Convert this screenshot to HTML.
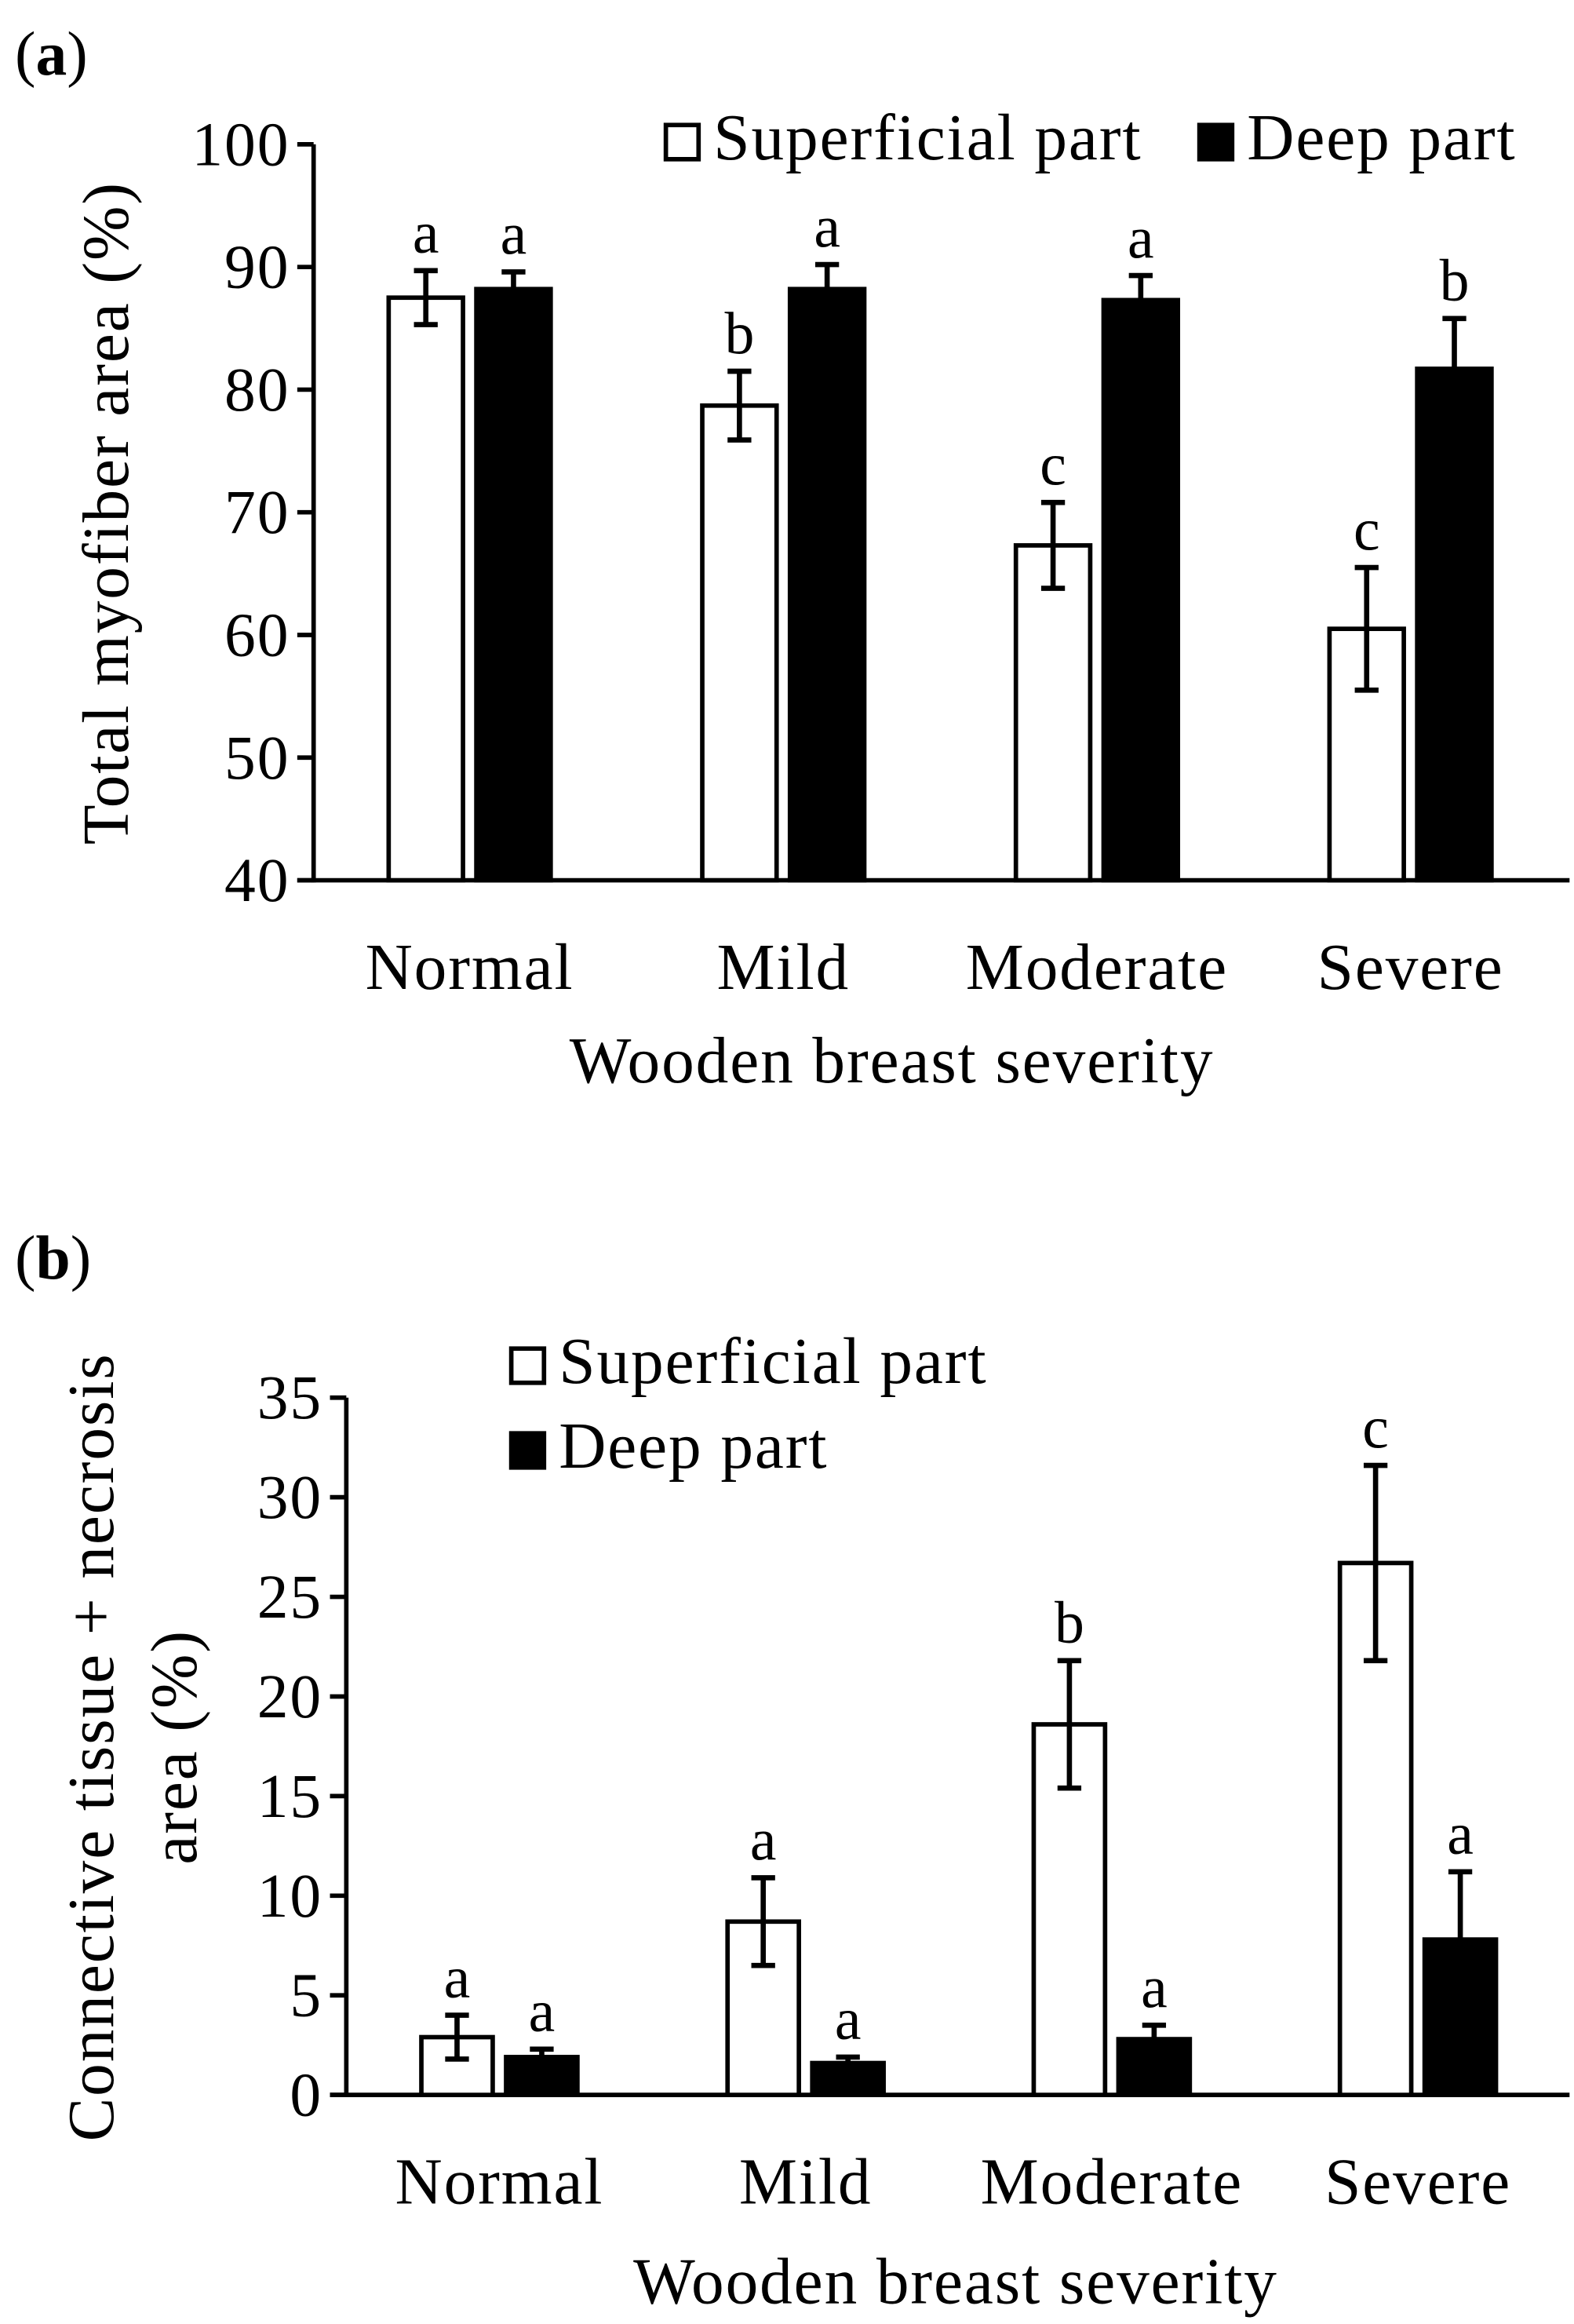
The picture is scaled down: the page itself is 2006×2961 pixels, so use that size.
<!DOCTYPE html>
<html><head><meta charset="utf-8"><style>
html,body{margin:0;padding:0;background:#fff}
svg{display:block}
text{font-family:"Liberation Serif",serif;fill:#000}
</style></head><body>
<svg id="fig" width="2006" height="2961" viewBox="0 0 1059 1563" xmlns="http://www.w3.org/2000/svg">
<text x="10" y="50" font-size="42">(<tspan font-weight="bold">a</tspan>)</text>
<text x="10" y="860" font-size="42">(<tspan font-weight="bold">b</tspan>)</text>
<g id="chartA"></g>
<g id="chartB"></g>
</svg>
<script>
const categories = ["Normal","Mild","Moderate","Severe"];
const aSuperficial = [87.5, 78.7, 67.3, 60.5];
const aSuperficialErr = [2.2, 2.8, 3.5, 5.0];
const aDeep = [88.2, 88.2, 87.3, 81.7];
const aDeepErr = [1.4, 2.0, 2.0, 4.1];
const aSupLetters = ["a","b","c","c"];
const aDeepLetters = ["a","a","a","b"];
const aTicks = [40,50,60,70,80,90,100];
const bSuperficial = [2.9, 8.7, 18.6, 26.7];
const bSuperficialErr = [1.1, 2.2, 3.2, 4.9];
const bDeep = [1.9, 1.6, 2.8, 7.8];
const bDeepErr = [0.4, 0.3, 0.7, 3.4];
const bSupLetters = ["a","a","b","c"];
const bDeepLetters = ["a","a","a","a"];
const bTicks = [0,5,10,15,20,25,30,35];

const NS="http://www.w3.org/2000/svg";
function mk(parent,tag,attrs,txt){const e=document.createElementNS(NS,tag);for(const k in attrs)e.setAttribute(k,attrs[k]);if(txt!==undefined)e.textContent=txt;parent.appendChild(e);return e;}

function drawChart(g,cfg){
  const y=v=>cfg.y0+(v-cfg.vmin)/(cfg.vmax-cfg.vmin)*(cfg.y1-cfg.y0);
  const xc=i=>cfg.gx0+i*cfg.gstep;
  const ya=mk(g,'line',{x1:cfg.ax,y1:y(cfg.vmax),x2:cfg.ax,y2:y(cfg.vmin)+1.5,stroke:'#000','stroke-width':3});
  
  
  const xa=mk(g,'line',{x1:cfg.ax-11,y1:y(cfg.vmin),x2:1056,y2:y(cfg.vmin),stroke:'#000','stroke-width':3});
  
  
  cfg.ticks.forEach(t=>{
    const tk=mk(g,'line',{x1:cfg.ax-11,y1:y(t),x2:cfg.ax,y2:y(t),stroke:'#000','stroke-width':3});
    
    
    const tl=mk(g,'text',{x:cfg.ax-16,y:y(t)+14,'font-size':42,'letter-spacing':1,'text-anchor':'end'},String(t));
    
    
  });
  categories.forEach((c,i)=>{
    const cx=xc(i);
    const bw=cfg.bw, off=cfg.off;
    [[cfg.sup,cfg.supE,cfg.supL,-1,'#fff','superficial'],[cfg.deep,cfg.deepE,cfg.deepL,1,'#000','deep']].forEach(([vals,errs,lets,s,fill,nm])=>{
      const bx=cx+s*off;
      const v=vals[i],e=errs[i];
      const r=mk(g,'rect',{x:bx-bw/2,y:y(v),width:bw,height:y(cfg.vmin)-y(v),fill:fill,stroke:'#000','stroke-width':3});
      
      
      const ep=mk(g,'path',{d:`M${bx},${y(v+e)}V${y(v-e)}M${bx-8},${y(v+e)}H${bx+8}M${bx-8},${y(v-e)}H${bx+8}`,stroke:'#000','stroke-width':3.5,fill:'none'});
      
      
      const lt=mk(g,'text',{x:bx,y:y(v+e)-12,'font-size':40,'text-anchor':'middle'},lets[i]);
      
      
    });
    const cl=mk(g,'text',{x:cx,y:cfg.catY,'font-size':44,'letter-spacing':1,'text-anchor':'middle'},c);
    
    
  });
  const xt=mk(g,'text',{x:cfg.xtX,y:cfg.xtY,'font-size':44,'letter-spacing':1,'text-anchor':'middle'},'Wooden breast severity');
  
  
}

const gA=document.getElementById('chartA');
drawChart(gA,{vmin:40,vmax:100,y0:592,y1:97,ax:211,gx0:316,gstep:211,bw:50,off:29.5,ticks:aTicks,
  sup:aSuperficial,supE:aSuperficialErr,supL:aSupLetters,deep:aDeep,deepE:aDeepErr,deepL:aDeepLetters,catY:665,xtX:600,xtY:728});
const gB=document.getElementById('chartB');
drawChart(gB,{vmin:0,vmax:35,y0:1409,y1:940,ax:233,gx0:336,gstep:206,bw:48,off:28.5,ticks:bTicks,
  sup:bSuperficial,supE:bSuperficialErr,supL:bSupLetters,deep:bDeep,deepE:bDeepErr,deepL:bDeepLetters,catY:1482,xtX:643,xtY:1549});

let t;
t=mk(gA,'text',{x:0,y:0,'font-size':44,'letter-spacing':1,'text-anchor':'middle',transform:'translate(86,345) rotate(-90)'},'Total myofiber area (%)');


t=mk(gB,'text',{x:0,y:0,'font-size':44,'letter-spacing':1,'text-anchor':'middle',transform:'translate(76,1175) rotate(-90)'},'Connective tissue + necrosis');


t=mk(gB,'text',{x:0,y:0,'font-size':44,'letter-spacing':1,'text-anchor':'middle',transform:'translate(132,1175) rotate(-90)'},'area (%)');



function legend(g,x,y,fill,label,nm){
  const r=mk(g,'rect',{x:x,y:y,width:22,height:23,fill:fill,stroke:'#000','stroke-width':3});
  
  
  const tx=mk(g,'text',{x:x+32,y:y+23,'font-size':44,'letter-spacing':1},label);
  
  
}
legend(gA,448,84,'#fff','Superficial part','superficial');
legend(gA,807,84,'#000','Deep part','deep');
legend(gB,344,907,'#fff','Superficial part','superficial');
legend(gB,344,964,'#000','Deep part','deep');
</script>
</body></html>
